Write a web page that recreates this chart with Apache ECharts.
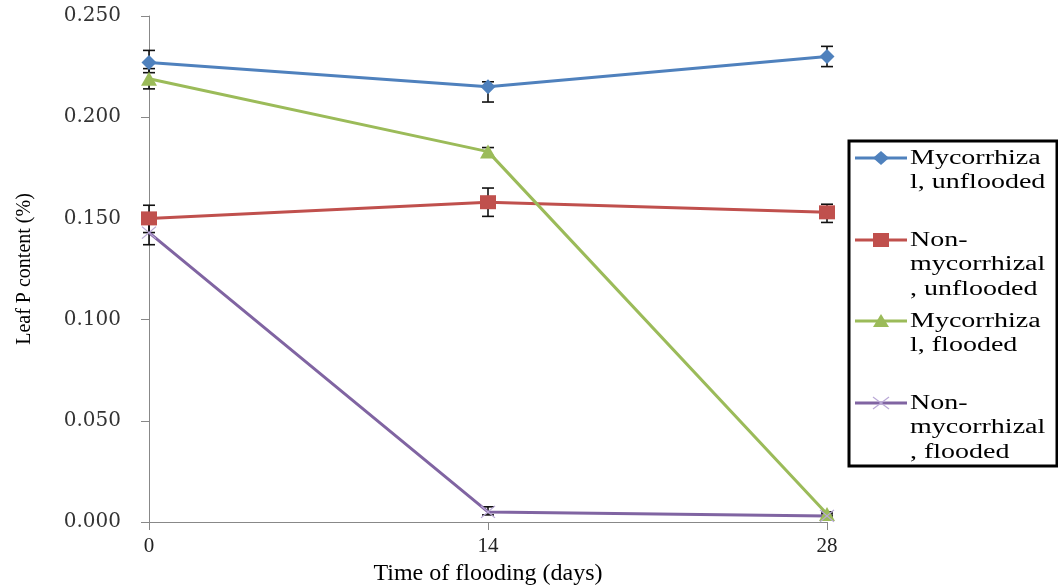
<!DOCTYPE html>
<html>
<head>
<meta charset="utf-8">
<script src="https://cdn.jsdelivr.net/npm/echarts@6/dist/echarts.min.js"></script>
<style>
html,body{margin:0;padding:0;background:#fff;}
#chart{width:1058px;height:585px;}
</style>
</head>
<body>
<div id="chart"></div>
<script>
// ---- data ----
const days = [0, 14, 28];
const seriesNames = ['Mycorrhizal, unflooded', 'Non-mycorrhizal, unflooded', 'Mycorrhizal, flooded', 'Non-mycorrhizal, flooded'];
const legendLabels = ['Mycorrhiza\nl, unflooded', 'Non-\nmycorrhizal\n, unflooded', 'Mycorrhiza\nl, flooded', 'Non-\nmycorrhizal\n, flooded'];

const mycUnflooded     = [0.227, 0.215, 0.230];
const mycUnfloodedHigh = [0.233, 0.2175, 0.235];
const mycUnfloodedLow  = [0.222, 0.2075, 0.225];

const nonUnflooded     = [0.150, 0.158, 0.153];
const nonUnfloodedHigh = [0.1565, 0.165, 0.157];
const nonUnfloodedLow  = [0.1430, 0.151, 0.148];

const mycFlooded       = [0.219, 0.183, 0.004];
const mycFloodedHigh   = [0.224, 0.185, 0.005];
const mycFloodedLow    = [0.214, 0.181, 0.003];

const nonFlooded       = [0.143, 0.005, 0.003];
const nonFloodedHigh   = [0.149, 0.0075, 0.004];
const nonFloodedLow    = [0.137, 0.0035, 0.002];

const yTicks = [0, 0.05, 0.10, 0.15, 0.20, 0.25];

// ---- styles ----
const colors = ['#4F81BD', '#C0504D', '#9BBB59', '#8064A2'];
const symbols = ['diamond', 'rect', 'triangle', 'path://M0,0L10,10M10,0L0,10'];
const symbolSizes = [[15, 15], [16, 14], [16, 14], [14, 12]];
const serif = '"Liberation Serif", "Times New Roman", serif';

const values = [mycUnflooded, nonUnflooded, mycFlooded, nonFlooded];
const highs = [mycUnfloodedHigh, nonUnfloodedHigh, mycFloodedHigh, nonFloodedHigh];
const lows = [mycUnfloodedLow, nonUnfloodedLow, mycFloodedLow, nonFloodedLow];

const series = [];
values.forEach((vals, i) => {
  series.push({
    name: seriesNames[i] + ' error',
    type: 'custom',
    z: 1,
    clip: false,
    data: days.map((d, k) => [d, lows[i][k], highs[i][k]]),
    renderItem: function (params, api) {
      const x = api.value(0);
      const pLo = api.coord([x, api.value(1)]);
      const pHi = api.coord([x, api.value(2)]);
      const hw = 6;
      const st = { stroke: '#111', lineWidth: 1.6 };
      return {
        type: 'group',
        children: [
          { type: 'line', shape: { x1: pLo[0], y1: pLo[1], x2: pHi[0], y2: pHi[1] }, style: st },
          { type: 'line', shape: { x1: pLo[0] - hw, y1: pLo[1], x2: pLo[0] + hw, y2: pLo[1] }, style: st },
          { type: 'line', shape: { x1: pHi[0] - hw, y1: pHi[1], x2: pHi[0] + hw, y2: pHi[1] }, style: st }
        ]
      };
    }
  });
});
values.forEach((vals, i) => {
  const isX = i === 3;
  series.push({
    name: seriesNames[i],
    type: 'line',
    z: 3,
    clip: false,
    data: days.map((d, k) => [d, vals[k]]),
    symbol: symbols[i],
    symbolSize: symbolSizes[i],
    showSymbol: true,
    lineStyle: { color: colors[i], width: 3 },
    itemStyle: isX
      ? { color: 'rgba(0,0,0,0)', borderColor: '#B9A8D6', borderWidth: 1.2 }
      : { color: colors[i], borderColor: colors[i], borderWidth: 0 },
    emphasis: { disabled: true },
    animation: false
  });
});

// ---- legend drawn as graphic ----
const legendX = 849, legendY = 141, legendW = 208, legendH = 325;
const itemCenters = [158, 240, 321, 403];
const graphics = [{
  type: 'rect',
  shape: { x: legendX, y: legendY, width: legendW, height: legendH },
  style: { fill: '#fff', stroke: '#000', lineWidth: 3 },
  z: 10
}];
itemCenters.forEach((cy, i) => {
  graphics.push({ type: 'line', shape: { x1: 855, y1: cy, x2: 907, y2: cy }, style: { stroke: colors[i], lineWidth: 3 }, z: 11 });
  const mx = 881;
  if (i === 0) {
    graphics.push({ type: 'polygon', shape: { points: [[mx, cy - 7], [mx + 8, cy], [mx, cy + 7], [mx - 8, cy]] }, style: { fill: colors[i] }, z: 12 });
  } else if (i === 1) {
    graphics.push({ type: 'rect', shape: { x: mx - 8, y: cy - 7, width: 16, height: 14 }, style: { fill: colors[i] }, z: 12 });
  } else if (i === 2) {
    graphics.push({ type: 'polygon', shape: { points: [[mx, cy - 7], [mx + 8, cy + 6], [mx - 8, cy + 6]] }, style: { fill: colors[i] }, z: 12 });
  } else {
    graphics.push({ type: 'line', shape: { x1: mx - 8, y1: cy - 6, x2: mx + 8, y2: cy + 6 }, style: { stroke: '#B9A8D6', lineWidth: 1.2 }, z: 12 });
    graphics.push({ type: 'line', shape: { x1: mx - 8, y1: cy + 6, x2: mx + 8, y2: cy - 6 }, style: { stroke: '#B9A8D6', lineWidth: 1.2 }, z: 12 });
  }
  graphics.push({
    type: 'text',
    x: 910, y: cy - 12,
    scaleX: 1.4,
    z: 12,
    style: {
      text: legendLabels[i],
      font: '20px ' + serif,
      fill: '#000',
      lineHeight: 24.5,
      verticalAlign: 'top',
      align: 'left'
    }
  });
});

const chart = echarts.init(document.getElementById('chart'), null, { renderer: 'canvas' });
chart.setOption({
  backgroundColor: '#fff',
  animation: false,
  grid: { left: 149, right: 231, top: 16, bottom: 63, containLabel: false, outerBoundsMode: 'none' },
  xAxis: {
    type: 'value',
    min: 0, max: 28, interval: 14,
    name: 'Time of flooding (days)',
    nameLocation: 'middle',
    nameGap: 28,
    nameTextStyle: { fontFamily: serif, fontSize: 24, color: '#000' },
    axisLine: { show: true, lineStyle: { color: '#888', width: 1 } },
    axisTick: { show: true, length: 8, inside: false, lineStyle: { color: '#888' } },
    axisLabel: { margin: 14, fontFamily: serif, fontSize: 21, color: '#222' },
    splitLine: { show: false }
  },
  yAxis: {
    type: 'value',
    min: 0, max: 0.25, interval: 0.05,
    name: 'Leaf P content (%)',
    nameLocation: 'middle',
    nameGap: 114,
    nameTextStyle: { fontFamily: serif, fontSize: 20, color: '#000' },
    axisLine: { show: true, lineStyle: { color: '#888', width: 1 } },
    axisTick: { show: true, length: 8, inside: false, lineStyle: { color: '#888' } },
    axisLabel: {
      margin: 28,
      fontFamily: '"DejaVu Serif", serif',
      fontSize: 20,
      color: '#333',
      formatter: v => v.toFixed(3)
    },
    splitLine: { show: false }
  },
  tooltip: { show: false },
  graphic: graphics,
  series: series
});
</script>
</body>
</html>
